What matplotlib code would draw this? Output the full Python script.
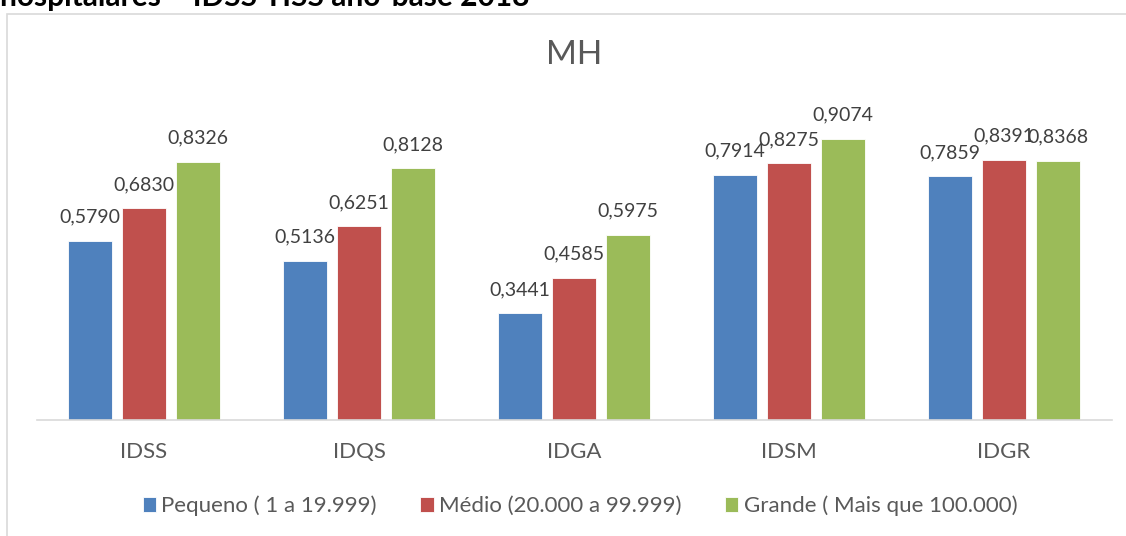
import numpy as np
import matplotlib.pyplot as plt
from matplotlib.patches import Rectangle

categories = ["IDSS", "IDQS", "IDGA", "IDSM", "IDGR"]
series_names = ["Pequeno ( 1 a 19.999)", "Médio (20.000 a 99.999)", "Grande ( Mais que 100.000)"]
pequeno = [0.5790, 0.5136, 0.3441, 0.7914, 0.7859]
medio = [0.6830, 0.6251, 0.4585, 0.8275, 0.8391]
grande = [0.8326, 0.8128, 0.5975, 0.9074, 0.8368]
colors = ["#4F81BD", "#C0504D", "#9BBB59"]

plt.rcParams["font.family"] = ["Lato", "DejaVu Sans"]
W, H = 1126, 536
fig = plt.figure(figsize=(W / 100, H / 100), dpi=100)

# chart area border (cut at right/bottom like the screenshot)
fig.patches.append(Rectangle((6.5 / W, -0.1), 1.2, 1 - 14 / H + 0.1,
                             transform=fig.transFigure, fill=False,
                             edgecolor="#d9d9d9", linewidth=1.2))

# clipped heading from the document above the chart
fig.text(0.0, 1 - 6 / H, "hospitalares – IDSS TISS ano-base 2018",
         ha="left", va="baseline", fontsize=21.5, fontweight="bold", color="black")

ax = fig.add_axes([36.5 / W, (H - 420) / H, 1075 / W, 310 / H])
x = np.arange(len(categories))
width = 44 / 215
step = 54 / 215
for i, (vals, name) in enumerate(zip([pequeno, medio, grande], series_names)):
    bars = ax.bar(x + (i - 1) * step, vals, width, color=colors[i], label=name,
                  edgecolor="white", linewidth=0.6)
    for b, v in zip(bars, vals):
        ax.annotate(f"{v:.4f}".replace(".", ","), (b.get_x() + b.get_width() / 2, v),
                    xytext=(0, 17), textcoords="offset points",
                    ha="center", va="center", fontsize=14, color="#404040")

ax.set_xlim(-0.5, len(categories) - 0.5)
ax.set_ylim(0, 1)
ax.set_xticks(x)
ax.set_xticklabels(categories, fontsize=16, color="#595959")
ax.tick_params(axis="x", length=0, pad=16)
ax.set_yticks([])
for s in ["left", "right", "top"]:
    ax.spines[s].set_visible(False)
ax.spines["bottom"].set_color("#d9d9d9")
ax.spines["bottom"].set_linewidth(1.2)
ax.patch.set_alpha(0)

fig.text(574 / W, 1 - 55.5 / H, "MH", ha="center", va="center",
         fontsize=24, color="#595959")

fig.legend(loc="center", bbox_to_anchor=(580 / W, 1 - 506 / H), ncol=3,
           frameon=False, fontsize=16, handlelength=0.6, handleheight=0.6,
           handletextpad=0.25, columnspacing=1.95, labelcolor="#595959")

fig.savefig("out.png", dpi=100)
